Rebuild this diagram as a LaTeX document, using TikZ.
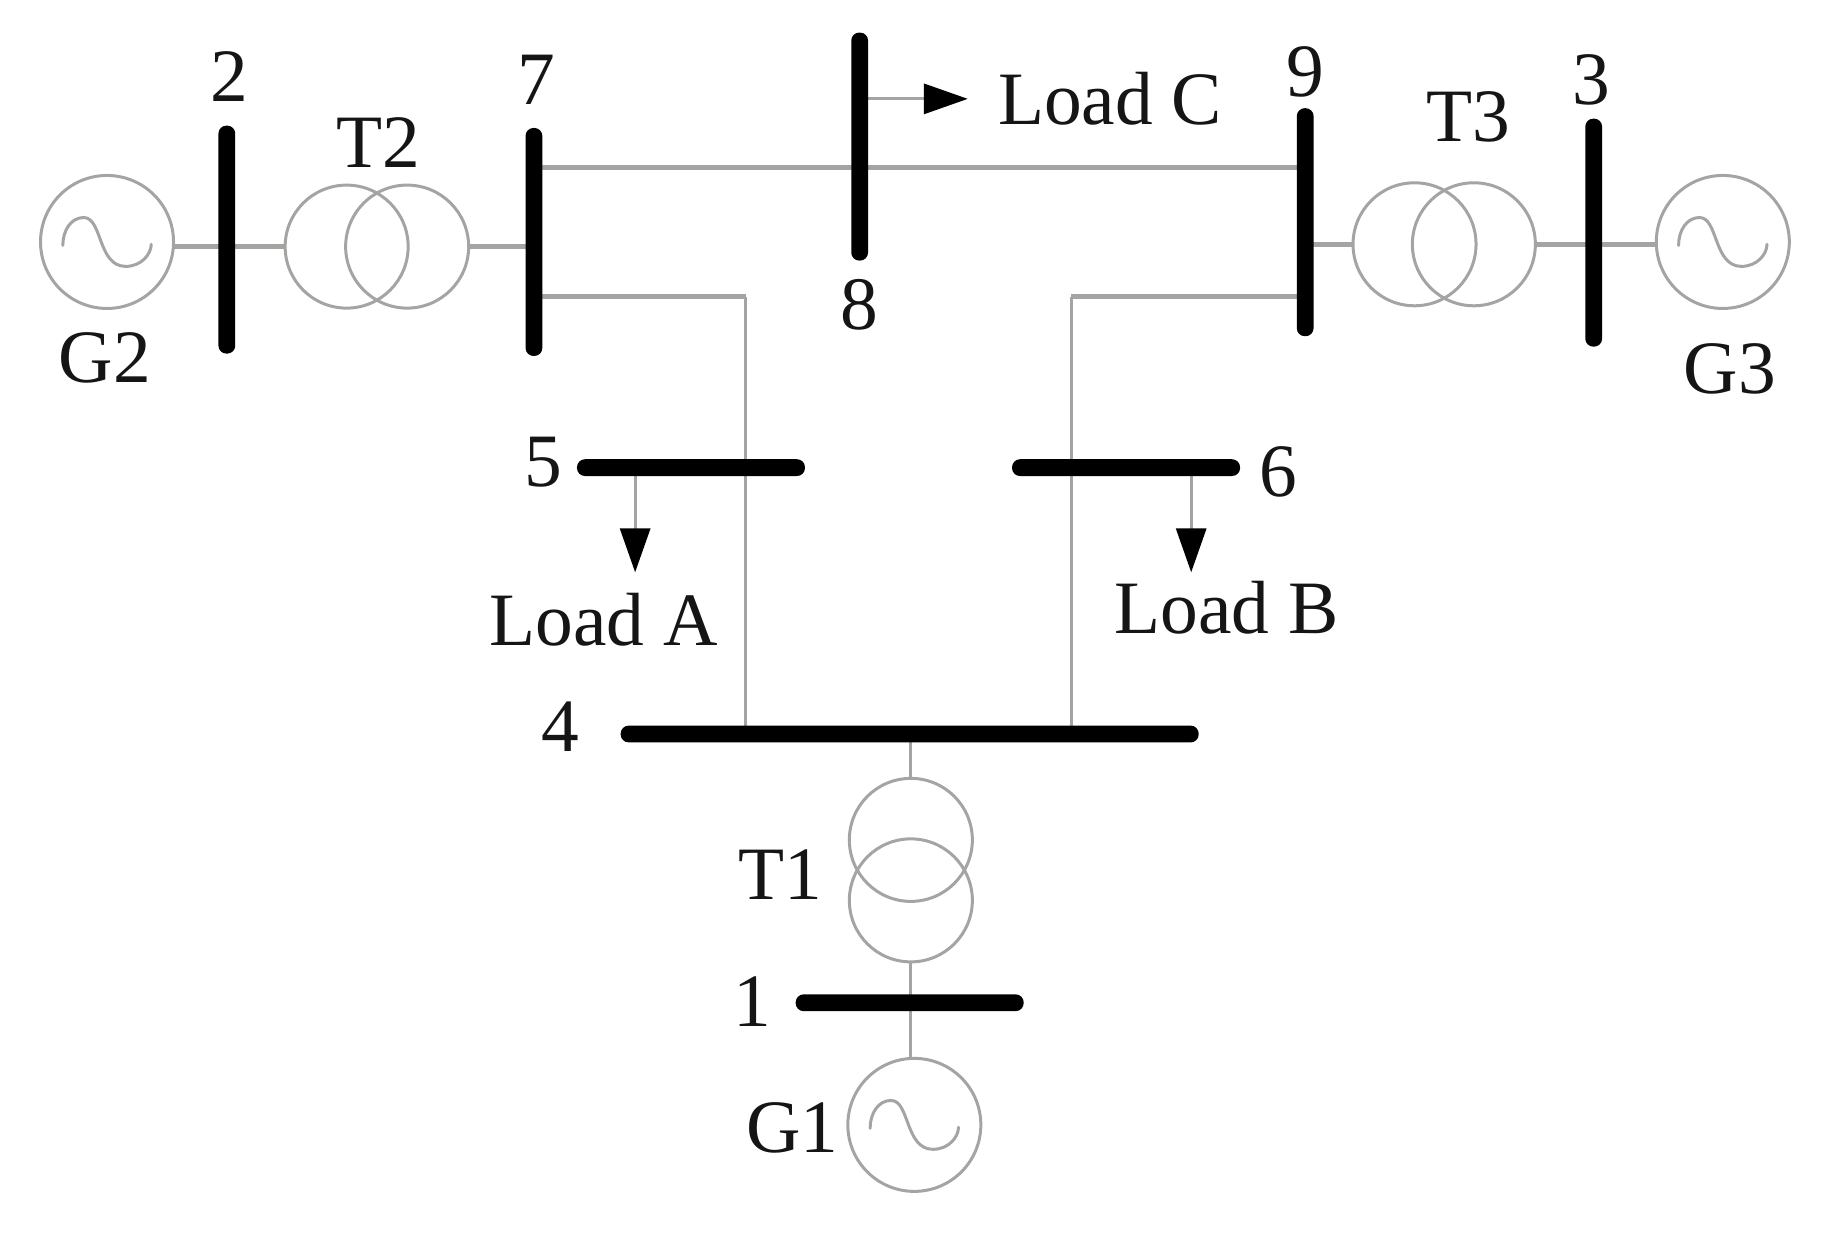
\documentclass[tikz,border=0pt]{standalone}
\usepackage{fontspec}
\setmainfont{Liberation Serif}
\usetikzlibrary{arrows.meta,backgrounds}
\definecolor{wirecol}{HTML}{A4A4A2}
\definecolor{inkcol}{HTML}{151515}
\tikzset{
  wire/.style={draw=wirecol,line width=2.4pt},
  thin wire/.style={draw=wirecol,line width=1.6pt},
  coil/.style={circle,draw=wirecol,line width=1.5pt,minimum size=61.5pt,inner sep=0pt,outer sep=0pt},
  gen/.style={circle,draw=wirecol,line width=1.5pt,minimum size=66.5pt,inner sep=0pt,outer sep=0pt},
  wave/.style={draw=wirecol,line width=1.5pt,line join=round,line cap=round},
  vbus/.style={fill=black,rounded corners=4pt,minimum width=8.4pt,minimum height=114pt,inner sep=0pt,outer sep=0pt},
  hbus/.style={fill=black,rounded corners=4pt,minimum height=8.4pt,inner sep=0pt,outer sep=0pt},
  lbl/.style={font=\fontsize{37.7}{38}\selectfont,text=inkcol,inner sep=0pt,outer sep=0pt},
  loadarrow/.style={thin wire,-{Triangle[length=22pt,width=15pt,fill=black,color=black]}},
}
\newcommand{\sinewave}[1]{\draw[wave,shift={(#1.center)}] (-38,3) .. controls (-38,-10) and (-31,-21) .. (-20,-21) .. controls (-4,-21) and (-8,21) .. (16,21) .. controls (30,21) and (38,10) .. (38,2);}
\begin{document}
\begin{tikzpicture}[x=0.5816pt,y=-0.5816pt]
\useasboundingbox (0,0) rectangle (1568,1061.7);
% generators
\node[gen] (g2) at (92,208) {};
\node[gen] (g3) at (1481,208) {};
\node[gen] (g1) at (786,967) {};
\sinewave{g2}\sinewave{g3}\sinewave{g1}
% transformers
\node[coil] (t2a) at (298,212) {};
\node[coil] (t2b) at (350,212) {};
\node[coil] (t3a) at (1216,210) {};
\node[coil] (t3b) at (1267,210) {};
\node[coil] (t1a) at (783,722) {};
\node[coil] (t1b) at (783,774) {};
% buses
\node[vbus] (b2) at (195,206) {};
\node[vbus] (b7) at (459,208) {};
\node[vbus] (b8) at (739,126) {};
\node[vbus] (b9) at (1122,191) {};
\node[vbus] (b3) at (1370,200) {};
\node[hbus,minimum width=114pt] (b5) at (594,402) {};
\node[hbus,minimum width=114pt] (b6) at (968,402) {};
\node[hbus,minimum width=289pt] (b4) at (782,631) {};
\node[hbus,minimum width=114pt] (b1) at (782,862) {};
% free ends and routing points
\coordinate (ya) at (0,144);
\coordinate (yb) at (0,255);
\coordinate (xl) at (641,0);
\coordinate (xr) at (921,0);
\coordinate (la) at (546,492);
\coordinate (lb) at (1024,492);
\coordinate (lc) at (832,85);
% connectors
\begin{scope}[on background layer]
\draw[wire] (g2.east |- t2a.west) -- (t2a.west);
\draw[wire] (t2b.east) -- (b7.center |- t2b.east);
\draw[wire] (b7 |- ya) -- (b9 |- ya);
\draw[wire] (b7 |- yb) -- (xl |- yb);
\draw[thin wire] (xl |- yb) -- (xl |- b4);
\draw[wire] (b9 |- yb) -- (xr |- yb);
\draw[thin wire] (xr |- yb) -- (xr |- b4);
\draw[wire] (b9.center |- t3a.west) -- (t3a.west);
\draw[wire] (t3b.east) -- (g3.west |- t3b.east);
\draw[thin wire] (t1a.north) -- (t1a.north |- b4);
\draw[thin wire] (t1b.south) -- (t1b.south |- g1.north);
\draw[loadarrow] (la |- b5) -- (la);
\draw[loadarrow] (lb |- b6) -- (lb);
\draw[loadarrow] (b8 |- lc) -- (lc);
\end{scope}
% labels
\node[lbl,anchor=base] (n2) at (197,87) {2};
\node[lbl,anchor=base] (n7) at (461,90) {7};
\node[lbl,anchor=base] (n8) at (739,283) {8};
\node[lbl,anchor=base] (n9) at (1122,83) {9};
\node[lbl,anchor=base] (n3) at (1368,90) {3};
\node[lbl,anchor=base] (n5) at (467,418) {5};
\node[lbl,anchor=base] (n6) at (1099,427) {6};
\node[lbl,anchor=base] (n4) at (482,646) {4};
\node[lbl,anchor=base] (n1) at (647,882) {1};
\node[lbl,anchor=base] (tt2) at (325,144) {T2};
\node[lbl,anchor=base] (tt3) at (1262,122) {T3};
\node[lbl,anchor=base] (tt1) at (671,773) {T1};
\node[lbl,anchor=base] (tg2) at (90,329) {G2};
\node[lbl,anchor=base] (tg3) at (1487,338) {G3};
\node[lbl,anchor=base] (tg1) at (681,991) {G1};
\node[lbl,anchor=base west] (tla) at (421,555) {Load A};
\node[lbl,anchor=base west] (tlb) at (958,545) {Load B};
\node[lbl,anchor=base west] (tlc) at (858,107) {Load C};
\end{tikzpicture}
\end{document}
